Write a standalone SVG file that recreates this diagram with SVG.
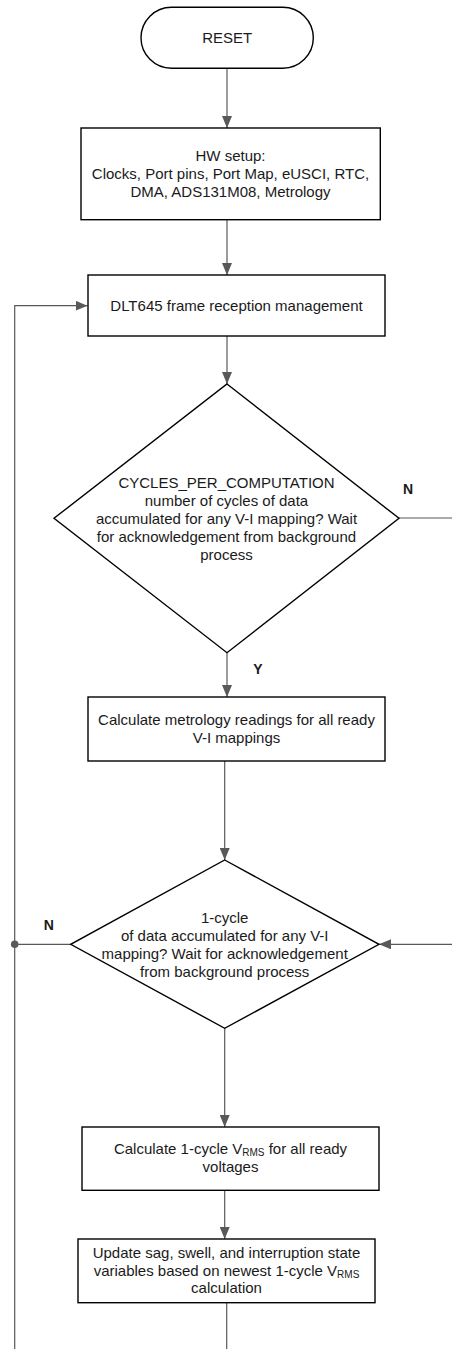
<svg xmlns="http://www.w3.org/2000/svg" width="452" height="1349" viewBox="0 0 452 1349">
<style>
.box{fill:#fff;stroke:#000;stroke-width:1.4}
.t{font-family:"Liberation Sans",Arial,sans-serif;font-size:15px;fill:#1a1a1a;text-anchor:middle}
.lbl{font-family:"Liberation Sans",Arial,sans-serif;font-size:14px;font-weight:bold;fill:#1a1a1a;text-anchor:middle}
.c{fill:none;stroke:#595959;stroke-width:1.2}
.sub{font-size:10px}
</style>
<defs>
<marker id="ah" markerUnits="userSpaceOnUse" markerWidth="12" markerHeight="10" refX="12" refY="5" orient="auto">
<path d="M0,0 L12,5 L0,10 Z" fill="#595959"/>
</marker>
</defs>
<rect width="452" height="1349" fill="#fff"/>
<g id="connectors">
<line class="c" x1="227" y1="68" x2="227" y2="128" marker-end="url(#ah)"/>
<line class="c" x1="227" y1="220" x2="227" y2="275" marker-end="url(#ah)"/>
<polyline class="c" points="14.7,1349 14.7,305.7 87.5,305.7" marker-end="url(#ah)"/>
<line class="c" x1="227" y1="336" x2="227" y2="384" marker-end="url(#ah)"/>
<line class="c" x1="399" y1="518" x2="452" y2="518"/>
<line class="c" x1="227" y1="653" x2="227" y2="697" marker-end="url(#ah)"/>
<line class="c" x1="224.7" y1="761" x2="224.7" y2="860" marker-end="url(#ah)"/>
<line class="c" x1="452" y1="944.3" x2="379" y2="944.3" marker-end="url(#ah)"/>
<line class="c" x1="70.7" y1="944.3" x2="14.7" y2="944.3"/>
<circle cx="14.7" cy="944.3" r="3.8" fill="#595959"/>
<line class="c" x1="224.7" y1="1028.3" x2="224.7" y2="1127" marker-end="url(#ah)"/>
<line class="c" x1="224.7" y1="1190.3" x2="224.7" y2="1239" marker-end="url(#ah)"/>
<line class="c" x1="226.7" y1="1303" x2="226.7" y2="1349"/>
<text class="lbl" x="408" y="494">N</text>
<text class="lbl" x="258" y="674">Y</text>
<text class="lbl" x="48.7" y="930">N</text>
</g>
<g id="reset">
<rect class="box" x="141" y="7.3" width="172.3" height="61" rx="30.5"/>
<text class="t" x="227.2" y="43">RESET</text>
</g>
<g id="hwsetup">
<rect class="box" x="81" y="128" width="299.3" height="91.7"/>
<text class="t" x="230.5" y="161">HW setup:</text>
<text class="t" x="230.5" y="179">Clocks, Port pins, Port Map, eUSCI, RTC,</text>
<text class="t" x="230.5" y="197">DMA, ADS131M08, Metrology</text>
</g>
<g id="dlt645">
<rect class="box" x="88" y="275" width="297" height="61"/>
<text class="t" x="236.5" y="311">DLT645 frame reception management</text>
</g>
<g id="decision1">
<polygon class="box" points="227,384 399,518.3 227,652.7 54,518.3"/>
<text class="t" x="226.5" y="487.5">CYCLES_PER_COMPUTATION</text>
<text class="t" x="226.5" y="505.5">number of cycles of data</text>
<text class="t" x="226.5" y="523.5">accumulated for any V-I mapping? Wait</text>
<text class="t" x="226.5" y="541.5">for acknowledgement from background</text>
<text class="t" x="226.5" y="559.5">process</text>
</g>
<g id="calcmetrology">
<rect class="box" x="88" y="697" width="297" height="64"/>
<text class="t" x="236.5" y="725">Calculate metrology readings for all ready</text>
<text class="t" x="236.5" y="743">V-I mappings</text>
</g>
<g id="decision2">
<polygon class="box" points="224.7,860 379,944.3 224.7,1028.3 70.7,944.3"/>
<text class="t" x="224.7" y="922.5">1-cycle</text>
<text class="t" x="224.7" y="940.5">of data accumulated for any V-I</text>
<text class="t" x="224.7" y="958.5">mapping? Wait for acknowledgement</text>
<text class="t" x="224.7" y="976.5">from background process</text>
</g>
<g id="calcvrms">
<rect class="box" x="82" y="1127" width="297" height="63.3"/>
<text class="t" x="230.5" y="1154">Calculate 1-cycle V<tspan class="sub" dy="1.5">RMS</tspan><tspan dy="-1.5"> for all ready</tspan></text>
<text class="t" x="230.5" y="1172">voltages</text>
</g>
<g id="update">
<rect class="box" x="78" y="1239" width="297" height="63.7"/>
<text class="t" x="226.5" y="1258">Update sag, swell, and interruption state</text>
<text class="t" x="226.5" y="1276">variables based on newest 1-cycle V<tspan class="sub" dy="1.5">RMS</tspan></text>
<text class="t" x="226.5" y="1293">calculation</text>
</g>
</svg>
